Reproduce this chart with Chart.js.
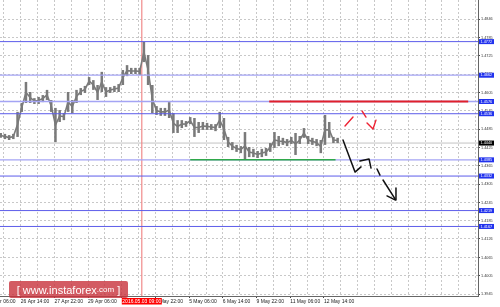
<!DOCTYPE html>
<html>
<head>
<meta charset="utf-8">
<script src="https://cdn.jsdelivr.net/npm/chart.js@4.4.0/dist/chart.umd.min.js"></script>
<style>
  body { margin: 0; background: #fff; }
  #wrap { position: relative; width: 500px; height: 307px; }
  #logo {
    position: absolute; left: 9px; top: 281px; width: 119px; height: 17px;
    background: rgba(200, 50, 60, 0.8); border-radius: 2px;
    color: #fff; font: 11px 'Liberation Sans', Arial, sans-serif;
    display: flex; align-items: center; justify-content: center; white-space: pre;
  }
  #logo small { font-size: 8px; }
</style>
</head>
<body>
<div id="wrap">
  <canvas id="chart" width="500" height="307"></canvas>
  <div id="logo">[ www.instaforex<small>.com</small> ]</div>
</div>
<script>
// H1 bars, counted from the first candle on the left (25 Apr 19:00)
const barIdx = [0, 4, 8, 12, 16, 20, 24, 28, 32, 36, 40, 44, 48, 52, 56, 60, 64, 68, 72, 76,
  80, 84, 88, 92, 96, 100, 104, 108, 112, 116, 120, 124, 128, 132, 136, 140, 144, 148, 152, 156,
  160, 164, 168, 172, 176, 180, 184, 188, 192, 196, 200, 204, 208, 212, 216, 220, 224, 228, 232, 236,
  240, 244, 248, 252, 256, 260, 264, 268, 272, 276, 280, 284, 288, 292, 296, 300, 304, 308, 312, 316, 320];
const highs = [1.4473, 1.4470, 1.4466, 1.4470, 1.4542, 1.4571, 1.4640, 1.4607, 1.4587, 1.4591,
  1.4597, 1.4614, 1.4581, 1.4555, 1.4548, 1.4538, 1.4607, 1.4581, 1.4614, 1.4620,
  1.4627, 1.4656, 1.4646, 1.4630, 1.4673, 1.4623, 1.4623, 1.4627, 1.4633, 1.4679,
  1.4695, 1.4686, 1.4686, 1.4686, 1.4771, 1.4728, 1.4630, 1.4561, 1.4555, 1.4555,
  1.4574, 1.4538, 1.4515, 1.4515, 1.4512, 1.4525, 1.4522, 1.4509, 1.4509, 1.4506,
  1.4502, 1.4502, 1.4542, 1.4522, 1.4460, 1.4443, 1.4434, 1.4430, 1.4476, 1.4427,
  1.4421, 1.4414, 1.4421, 1.4424, 1.4440, 1.4476, 1.4463, 1.4457, 1.4453, 1.4460,
  1.4473, 1.4463, 1.4489, 1.4463, 1.4457, 1.4453, 1.4450, 1.4532, 1.4509, 1.4460, 1.4457];
const lows = [1.4457, 1.4453, 1.4450, 1.4453, 1.4460, 1.4542, 1.4571, 1.4571, 1.4568, 1.4568,
  1.4574, 1.4581, 1.4542, 1.4443, 1.4509, 1.4515, 1.4542, 1.4538, 1.4571, 1.4597,
  1.4604, 1.4630, 1.4614, 1.4581, 1.4607, 1.4591, 1.4604, 1.4607, 1.4607, 1.4630,
  1.4659, 1.4666, 1.4666, 1.4663, 1.4705, 1.4630, 1.4538, 1.4532, 1.4529, 1.4529,
  1.4522, 1.4473, 1.4473, 1.4489, 1.4493, 1.4502, 1.4460, 1.4473, 1.4483, 1.4483,
  1.4483, 1.4479, 1.4489, 1.4450, 1.4427, 1.4417, 1.4411, 1.4407, 1.4385, 1.4394,
  1.4394, 1.4391, 1.4394, 1.4398, 1.4411, 1.4424, 1.4430, 1.4434, 1.4430, 1.4437,
  1.4401, 1.4437, 1.4457, 1.4437, 1.4434, 1.4430, 1.4407, 1.4434, 1.4457, 1.4440, 1.4440];

const yTicks = [1.4846, 1.4785, 1.4725, 1.4665, 1.4605, 1.4545, 1.4485, 1.4425,
  1.4365, 1.4305, 1.4245, 1.4185, 1.4126, 1.4065, 1.4005, 1.3945];
const xLabelBars = [-13, 19, 51, 83, 115, 147, 179, 211, 243, 275, 307];
const xLabels = ['25 Apr 06:00', '26 Apr 14:00', '27 Apr 22:00', '29 Apr 06:00', '2 May 14:00',
  '3 May 22:00', '5 May 06:00', '6 May 14:00', '9 May 22:00', '11 May 06:00', '12 May 14:00'];

// horizontal levels and the current price
const levels = [1.4772, 1.4662, 1.4576, 1.4536, 1.4385, 1.4332, 1.4219, 1.4167];
const lastPrice = 1.4440;

// vertical marker 2016.05.03 09:00
const markerBar = 134;
const markerText = '2016.05.03 09:00';

// red resistance and green support segments: [price, from bar, to bar]
const resistance = [1.4576, 255, 444];
const support = [1.4385, 180, 318];

// hand drawn arrows, strokes of [bar, price]
const redArrow = [
  [[327.0, 1.4496], [334.6, 1.4525]],
  [[343.1, 1.4545], [346.9, 1.4525]],
  [[347.9, 1.4506], [353.6, 1.4486], [356.4, 1.4515]]
];
const blackArrow = [
  [[325.1, 1.4450], [336.5, 1.4345], [342.2, 1.4362]],
  [[341.2, 1.4381], [349.8, 1.4388], [351.7, 1.4358]],
  [[357.4, 1.4355], [360.2, 1.4335]],
  [[363.1, 1.4319], [374.5, 1.4257]],
  [[366.9, 1.4267], [374.5, 1.4254], [375.4, 1.4293]]
];

// axis range
const xMin = -0.66, xMax = 453.3;
const yMin = 1.39394, yMax = 1.49082;


// **********************************************
// datasets

const font = "'Liberation Sans', Arial, sans-serif";
const lightLevels = [1.4662, 1.4576, 1.4385];

function hLine(v, from, to, color, width, order) {
  return {
    type: 'line', data: [{x: from, y: v}, {x: to, y: v}],
    borderColor: color, borderWidth: width, pointRadius: 0, order: order
  };
}

function stroke(points, color, width) {
  return {
    type: 'line', data: points.map(p => ({x: p[0], y: p[1]})),
    borderColor: color, borderWidth: width, pointRadius: 0, order: 0,
    borderCapStyle: 'round', borderJoinStyle: 'round', tension: 0
  };
}

let datasets = [];

// candles: high-low ranges plus a thin line through their middles
datasets.push({
  type: 'bar',
  data: barIdx.map((t, i) => ({x: t, y: [lows[i], highs[i]]})),
  backgroundColor: '#7a7a7a',
  borderWidth: 0,
  barPercentage: 0.6,
  categoryPercentage: 1,
  order: 5
});
datasets.push({
  type: 'line',
  data: barIdx.map((t, i) => ({x: t, y: (lows[i] + highs[i]) / 2})),
  borderColor: '#7a7a7a',
  borderWidth: 1.6,
  pointRadius: 0,
  tension: 0,
  order: 5
});

datasets.push(hLine(lastPrice, -20, 460, '#c4c4c4', 1, 7));
datasets.push({
  type: 'line', data: [{x: markerBar, y: 1.38}, {x: markerBar, y: 1.50}],
  borderColor: '#f08a8a', borderWidth: 1.2, pointRadius: 0, order: 6
});

for (const v of levels) {
  const light = lightLevels.includes(v);
  datasets.push(hLine(v, -20, 460, light ? '#a4a4f4' : '#5c5cea', light ? 1.3 : 1, 3));
}

datasets.push(hLine(resistance[0], resistance[1], resistance[2], '#e0202c', 2, 2));
datasets.push(hLine(support[0], support[1], support[2], '#2fa84a', 1.5, 2));

for (const s of redArrow) datasets.push(stroke(s, '#ee2233', 1.4));
for (const s of blackArrow) datasets.push(stroke(s, '#111111', 1.5));


// **********************************************
// price boxes on the right and the marker date box

const boxPlugin = {
  id: 'boxes',
  afterDraw(chart) {
    const ctx = chart.ctx;
    const ys = chart.scales.y;
    const xs = chart.scales.x;
    const left = chart.chartArea.right + 1;
    ctx.save();
    ctx.font = '3.8px ' + font;
    ctx.textBaseline = 'middle';
    ctx.textAlign = 'left';
    const drawBox = (v, bg) => {
      const y = ys.getPixelForValue(v);
      ctx.fillStyle = bg;
      ctx.fillRect(left, y - 2.5, 15, 5);
      ctx.fillStyle = '#ffffff';
      ctx.fillText(v.toFixed(4), left + 1.5, y + 0.2);
    };
    for (const v of levels) drawBox(v, '#2233ee');
    drawBox(lastPrice, '#000000');

    // date of the vertical marker
    const mx = xs.getPixelForValue(markerBar);
    const top = chart.chartArea.bottom + 2;
    ctx.fillStyle = '#ff0000';
    ctx.fillRect(mx - 20, top, 40, 6.5);
    ctx.fillStyle = '#ffffff';
    ctx.font = '5px ' + font;
    ctx.textAlign = 'center';
    ctx.fillText(markerText, mx, top + 3.4);
    ctx.restore();
  }
};


// **********************************************
// chart

new Chart(document.getElementById('chart'), {
  type: 'bar',
  data: { datasets: datasets },
  options: {
    responsive: false,
    animation: false,
    layout: { padding: 0 },
    plugins: { legend: { display: false }, tooltip: { enabled: false } },
    scales: {
      x: {
        type: 'linear',
        min: xMin,
        max: xMax,
        offset: false,
        afterBuildTicks: axis => {
          let t = [-13];
          for (let v = 3; v <= 451; v += 16) t.push(v);
          axis.ticks = t.map(v => ({value: v}));
        },
        afterFit: axis => {
          axis.height = 11;
          axis.paddingLeft = 0; axis.paddingRight = 0;
        },
        ticks: {
          autoSkip: false,
          maxRotation: 0,
          align: 'start',
          padding: 1,
          color: '#222',
          font: { family: font, size: 5 },
          callback: v => {
            const i = xLabelBars.indexOf(v);
            return i >= 0 ? xLabels[i] : '';
          }
        },
        grid: {
          offset: false,
          color: '#c8c8c8',
          lineWidth: 1,
          tickLength: 2,
          tickColor: c => (c.tick && xLabelBars.includes(c.tick.value)) ? '#444' : 'rgba(0,0,0,0)'
        },
        border: { color: '#666', width: 1, dash: [2, 2] }
      },
      y: {
        type: 'linear',
        position: 'right',
        min: yMin,
        max: yMax,
        afterBuildTicks: axis => {
          axis.ticks = yTicks.map(v => ({value: v}));
        },
        afterFit: axis => {
          axis.width = 22;
          axis.paddingTop = 0; axis.paddingBottom = 0;
        },
        ticks: {
          autoSkip: false,
          padding: 1,
          color: '#333',
          font: { family: font, size: 3.8 },
          callback: v => v.toFixed(4)
        },
        grid: {
          color: '#c8c8c8',
          lineWidth: 1,
          tickLength: 2,
          tickColor: '#444'
        },
        border: { color: '#666', width: 1, dash: [2, 2] }
      }
    }
  },
  plugins: [boxPlugin]
});
</script>
</body>
</html>
